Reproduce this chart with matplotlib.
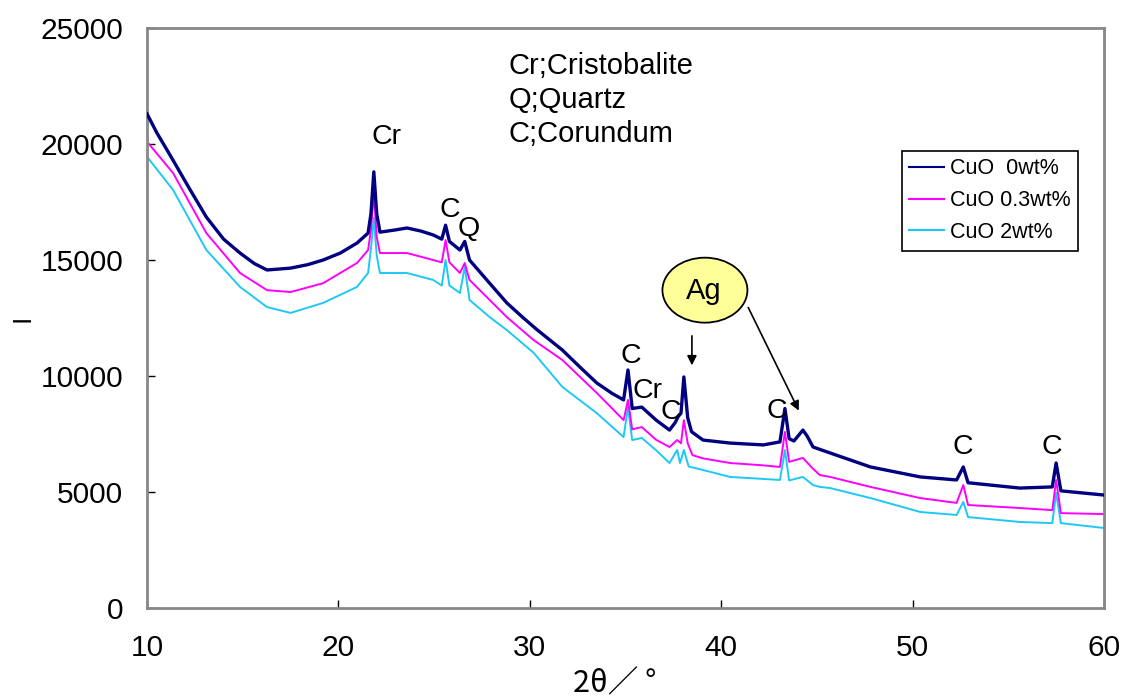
import matplotlib
matplotlib.use("Agg")
import matplotlib.pyplot as plt
from matplotlib.patches import Ellipse

plt.rcParams['font.family'] = ['Liberation Sans', 'DejaVu Sans']

# ---- data ----
x_cuo0 = [10.0, 10.5, 11.36, 12.2, 13.1, 14.0, 14.86, 15.6, 16.27, 17.5, 18.4, 19.2, 20.1,
          20.97, 21.55, 21.7, 21.85, 22.0, 22.17, 23.0, 23.58, 24.3, 24.95, 25.4, 25.6,
          25.8, 26.35, 26.6, 26.85, 27.9, 28.8, 29.6, 30.4, 31.7, 32.6, 33.5, 34.3, 34.9,
          35.13, 35.35, 35.85, 36.6, 37.3, 37.6, 37.75, 37.9, 38.05, 38.25, 38.45, 39.05,
          40.46, 42.2, 43.07, 43.33, 43.55, 43.8, 44.27, 44.5, 44.8, 45.7, 47.8, 50.4,
          52.3, 52.65, 52.9, 55.6, 57.3, 57.5, 57.75, 60.0]
y_cuo0 = [21300, 20500, 19300, 18100, 16850, 15900, 15300, 14850, 14570, 14650, 14800, 15000, 15300,
          15730, 16160, 17000, 18800, 17000, 16200, 16300, 16380, 16250, 16080, 15900, 16500,
          15800, 15430, 15800, 15000, 14000, 13150, 12550, 11980, 11120, 10400, 9700, 9250, 8970,
          10260, 8600, 8660, 8100, 7670, 8000, 8250, 8400, 9960, 8200, 7600, 7240,
          7110, 7030, 7160, 8600, 7300, 7200, 7670, 7400, 6940, 6680, 6080, 5650,
          5520, 6080, 5400, 5170, 5220, 6250, 5050, 4870]

x_cuo03 = [10.0, 11.36, 13.1, 14.86, 16.27, 17.5, 19.2, 20.97, 21.55, 21.7, 21.85, 22.0, 22.17,
           23.58, 24.95, 25.4, 25.6, 25.8, 26.35, 26.6, 26.85, 27.9, 28.8, 30.2, 31.7, 33.5,
           34.9, 35.13, 35.35, 35.85, 36.6, 37.3, 37.7, 37.9, 38.05, 38.25, 38.5, 39.05, 40.46,
           42.2, 43.07, 43.33, 43.55, 44.27, 44.8, 45.16, 45.7, 47.8, 50.4, 52.3, 52.65, 52.9,
           55.6, 57.3, 57.5, 57.75, 60.0]
y_cuo03 = [20100, 18750, 16160, 14440, 13700, 13620, 14000, 14870, 15430, 16300, 17890, 16000, 15300,
           15300, 15000, 14900, 15860, 14900, 14440, 14870, 14140, 13280, 12540, 11550, 10690, 9270,
           8100, 8970, 7700, 7800, 7250, 6940, 7240, 7100, 8100, 7100, 6590, 6450, 6250,
           6150, 6080, 7590, 6300, 6470, 6000, 5730, 5650, 5220, 4740, 4530, 5300, 4440,
           4310, 4220, 5520, 4090, 4050]

x_cuo2 = [10.0, 11.36, 13.1, 14.86, 16.27, 17.5, 19.2, 20.97, 21.55, 21.7, 21.85, 22.0, 22.17,
          23.58, 24.95, 25.4, 25.6, 25.8, 26.35, 26.6, 26.85, 27.9, 28.8, 30.2, 31.7, 33.5,
          34.9, 35.13, 35.35, 35.85, 36.6, 37.3, 37.7, 37.85, 38.05, 38.3, 39.05, 40.46, 43.07,
          43.33, 43.55, 44.27, 44.8, 45.16, 45.7, 47.8, 50.4, 52.3, 52.65, 52.9, 55.6, 57.3,
          57.5, 57.75, 60.0]
y_cuo2 = [19450, 18020, 15430, 13840, 12970, 12720, 13150, 13840, 14440, 15500, 16810, 15200, 14440,
          14440, 14140, 13900, 15000, 13900, 13580, 14700, 13280, 12540, 11980, 11000, 9530, 8400,
          7370, 8660, 7240, 7330, 6800, 6250, 6810, 6250, 6810, 6100, 5950, 5650, 5520,
          6810, 5500, 5650, 5300, 5220, 5170, 4740, 4140, 4010, 4570, 3920, 3710, 3660,
          4960, 3660, 3450]

series_labels = ['CuO  0wt%', 'CuO 0.3wt%', 'CuO 2wt%']
x_ticks = [10, 20, 30, 40, 50, 60]
y_ticks = [0, 5000, 10000, 15000, 20000, 25000]

peak_labels = ['Cr', 'C', 'Q', 'C', 'Cr', 'C', 'C', 'C', 'C']
peak_label_x = [22.5, 25.8, 26.8, 35.3, 36.15, 37.35, 42.9, 52.6, 57.3]
peak_label_y = [20300, 17150, 16350, 10850, 9350, 8450, 8500, 6950, 6950]

phase_legend = ['Cr;Cristobalite', 'Q;Quartz', 'C;Corundum']

# ---- figure ----
fig = plt.figure(figsize=(11.25, 6.98), dpi=100)
ax = fig.add_axes([0.1307, 0.1289, 0.8506, 0.8310])

ax.plot(x_cuo0, y_cuo0, color='#000080', lw=2.4, label=series_labels[0], zorder=3)
ax.plot(x_cuo03, y_cuo03, color='#FF00FF', lw=1.4, label=series_labels[1], zorder=2)
ax.plot(x_cuo2, y_cuo2, color='#1EC8F5', lw=1.4, label=series_labels[2], zorder=1)

ax.set_xlim(10, 60)
ax.set_ylim(0, 25000)
ax.set_xticks(x_ticks)
ax.set_yticks(y_ticks)
ax.tick_params(axis='both', direction='in', length=6, width=1, color='black')
ax.tick_params(axis='y', labelsize=21.5, pad=17)
ax.tick_params(axis='x', labelsize=21.5, pad=19)
for s in ax.spines.values():
    s.set_color('#888888')
    s.set_linewidth(2)

ax.set_xlabel('2θ／ °', family=['Noto Sans CJK JP', 'DejaVu Sans'], fontsize=22)
ax.xaxis.set_label_coords(0.489, -0.104)
ax.set_ylabel('I', fontsize=18, family=['Noto Sans CJK JP', 'DejaVu Sans'])
ax.yaxis.set_label_coords(-0.117, 0.5)

for lab, px, py in zip(peak_labels, peak_label_x, peak_label_y):
    ax.text(px, py, lab, fontsize=20.5, ha='center', va='center')

for i, t in enumerate(phase_legend):
    ax.text(0.378, 0.935 - i * 0.0585, t, transform=ax.transAxes, fontsize=21,
            ha='left', va='center')

# Ag callout
ell = Ellipse((39.15, 13700), width=4.44, height=2800, facecolor='#FFFF99',
              edgecolor='black', lw=1.3, zorder=5)
ax.add_patch(ell)
ax.text(39.1, 13650, 'Ag', fontsize=21, ha='center', va='center', zorder=6)
ax.annotate('', xy=(38.47, 10340), xytext=(38.47, 11850),
            arrowprops=dict(arrowstyle='-|>', color='black', lw=1.2, mutation_scale=14))
ax.annotate('', xy=(44.12, 8400), xytext=(41.35, 13060),
            arrowprops=dict(arrowstyle='-|>', color='black', lw=1.2, mutation_scale=14))

leg = ax.legend(loc='upper right', bbox_to_anchor=(0.973, 0.788), fontsize=15.5,
                frameon=True, fancybox=False, edgecolor='black', framealpha=1,
                handlelength=1.6, handletextpad=0.3, borderpad=0.35, labelspacing=0.5,
                borderaxespad=0)
leg.get_frame().set_linewidth(1.2)
for h in leg.get_lines():
    h.set_linewidth(1.5)

fig.savefig('out.png', dpi=100)
